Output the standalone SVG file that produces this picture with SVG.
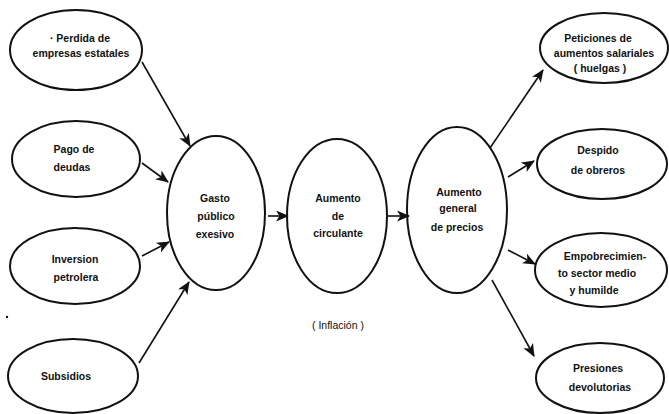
<svg xmlns="http://www.w3.org/2000/svg" width="669" height="414" viewBox="0 0 669 414">
<defs>
<style>
.n ellipse{fill:none;stroke:#111;stroke-width:2}
text{font-family:"Liberation Sans",Arial,sans-serif;font-weight:bold;font-size:10.5px;fill:#111;text-anchor:middle}
.c line{stroke:#111;stroke-width:1.6}
</style>
<marker id="ah" markerUnits="userSpaceOnUse" markerWidth="15" markerHeight="12" refX="12" refY="5.5" orient="auto">
<path d="M0,0 L13,5.5 L0,11 L3.5,5.5 z" fill="#111"/>
</marker>
</defs>
<rect width="669" height="414" fill="#fff"/>
<g id="perdida" class="n"><ellipse cx="76" cy="50" rx="66" ry="40"/><text x="80" y="42">· Perdida  de</text><text x="81" y="57">empresas estatales</text></g>
<g id="pago" class="n"><ellipse cx="76" cy="159" rx="64" ry="38"/><text x="74" y="153">Pago de</text><text x="72" y="171">deudas</text></g>
<g id="inversion" class="n"><ellipse cx="75" cy="266" rx="65" ry="38"/><text x="75" y="263">Inversion</text><text x="76" y="281">petrolera</text></g>
<g id="subsidios" class="n"><ellipse cx="73" cy="376" rx="65" ry="37"/><text x="66" y="380">Subsidios</text></g>
<g id="gasto" class="n"><ellipse cx="216" cy="213" rx="49" ry="77"/><text x="215" y="202">Gasto</text><text x="216" y="220">público</text><text x="215" y="238">exesivo</text></g>
<g id="circulante" class="n"><ellipse cx="337" cy="216" rx="50" ry="77"/><text x="338" y="202">Aumento</text><text x="338" y="220">de</text><text x="338" y="237">circulante</text></g>
<g id="general" class="n"><ellipse cx="457" cy="210" rx="50" ry="83"/><text x="459" y="196">Aumento</text><text x="458" y="212">general</text><text x="457" y="231">de precios</text></g>
<g id="peticiones" class="n"><ellipse cx="604" cy="48" rx="64" ry="35"/><text x="598" y="42">Peticiones de</text><text x="604" y="57">aumentos salariales</text><text x="600" y="72">( huelgas )</text></g>
<g id="despido" class="n"><ellipse cx="602" cy="164" rx="65" ry="35"/><text x="598" y="154">Despido</text><text x="598" y="174">de obreros</text></g>
<g id="empobrecimiento" class="n"><ellipse cx="601" cy="270" rx="66" ry="37"/><text x="605" y="260">Empobrecimien-</text><text x="597" y="277">to sector medio</text><text x="594" y="294">y humilde</text></g>
<g id="presiones" class="n"><ellipse cx="600" cy="378" rx="64" ry="35"/><text x="598" y="372">Presiones</text><text x="600" y="391">devolutorias</text></g>
<text x="338" y="329" style="font-weight:normal">( Inflación )</text>
<g class="c">
<line x1="142" y1="62" x2="190" y2="146" marker-end="url(#ah)"/>
<line x1="142" y1="163" x2="168" y2="182" marker-end="url(#ah)"/>
<line x1="142" y1="256" x2="169" y2="242" marker-end="url(#ah)"/>
<line x1="139" y1="363" x2="189" y2="282" marker-end="url(#ah)"/>
<line x1="268" y1="216" x2="288" y2="216" marker-end="url(#ah)"/>
<line x1="388" y1="216" x2="409" y2="216" marker-end="url(#ah)"/>
<line x1="490" y1="148" x2="543" y2="70" marker-end="url(#ah)"/>
<line x1="508" y1="177" x2="534" y2="161" marker-end="url(#ah)"/>
<line x1="508" y1="250" x2="535" y2="264" marker-end="url(#ah)"/>
<line x1="492" y1="280" x2="534" y2="356" marker-end="url(#ah)"/>
</g>
<circle cx="7" cy="317" r="1.2" fill="#111"/>
</svg>
